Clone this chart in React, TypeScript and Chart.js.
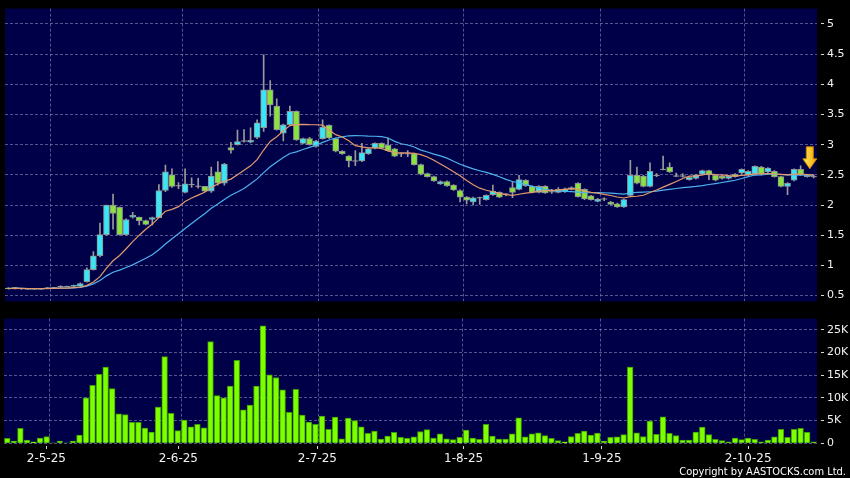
import React, { useEffect, useRef } from "react";
import { Chart, registerables } from "chart.js";

Chart.register(...registerables);

// ---- data (one entry per trading day, oldest first) ----
const opens = [
  0.625, 0.61, 0.615, 0.61, 0.61, 0.61, 0.61, 0.63, 0.65, 0.65,
  0.65, 0.65, 0.73, 0.93, 1.16, 1.51, 2.0, 1.96, 1.51, 1.8,
  1.8, 1.74, 1.76, 1.79, 2.24, 2.5, 2.32, 2.21, 2.34, 2.31,
  2.31, 2.23, 2.55, 2.36, 2.95, 3.0, 3.06, 3.04, 3.12, 3.28,
  3.91, 3.64, 3.19, 3.33, 3.55, 3.02, 3.1, 2.97, 3.1, 3.32,
  3.1, 2.89, 2.81, 2.73, 2.73, 2.85, 2.94, 3.02, 2.99, 2.93,
  2.85, 2.85, 2.85, 2.67, 2.52, 2.47, 2.35, 2.39, 2.33, 2.24,
  2.13, 2.05, 2.12, 2.09, 2.17, 2.21, 2.18, 2.29, 2.26, 2.41,
  2.31, 2.21, 2.31, 2.22, 2.21, 2.22, 2.26, 2.36, 2.26, 2.15,
  2.06, 2.1, 2.05, 2.02, 1.97, 2.16, 2.49, 2.48, 2.31, 2.49,
  2.59, 2.63, 2.48, 2.48, 2.42, 2.44, 2.51, 2.57, 2.49, 2.48,
  2.44, 2.51, 2.53, 2.5, 2.51, 2.63, 2.55, 2.56, 2.47, 2.31,
  2.41, 2.59, 2.47, 2.47,
];
const highs = [
  0.63, 0.635, 0.62, 0.615, 0.615, 0.615, 0.635, 0.635, 0.66, 0.655,
  0.675, 0.71, 0.96, 1.23, 1.7, 2.0, 2.18, 1.97, 1.77, 1.88,
  1.8, 1.75, 1.8, 2.34, 2.66, 2.6, 2.37, 2.6, 2.45, 2.44,
  2.31, 2.63, 2.72, 2.69, 3.04, 3.24, 3.25, 3.28, 3.41, 4.49,
  4.06, 3.76, 3.34, 3.64, 3.56, 3.11, 3.12, 3.07, 3.41, 3.33,
  3.11, 2.9, 2.82, 2.9, 3.02, 2.94, 3.03, 3.03, 3.11, 2.94,
  2.86, 2.9, 2.86, 2.68, 2.53, 2.48, 2.4, 2.4, 2.34, 2.25,
  2.14, 2.13, 2.13, 2.17, 2.33, 2.22, 2.19, 2.38, 2.49, 2.42,
  2.32, 2.32, 2.32, 2.26, 2.29, 2.28, 2.3, 2.37, 2.27, 2.16,
  2.11, 2.12, 2.06, 2.03, 2.1, 2.74, 2.63, 2.49, 2.7, 2.52,
  2.81, 2.7, 2.53, 2.52, 2.47, 2.51, 2.58, 2.58, 2.5, 2.49,
  2.49, 2.52, 2.6, 2.57, 2.65, 2.64, 2.62, 2.57, 2.48, 2.37,
  2.6, 2.65, 2.5, 2.5,
];
const lows = [
  0.61, 0.61, 0.6, 0.605, 0.605, 0.605, 0.61, 0.625, 0.63, 0.645,
  0.645, 0.64, 0.72, 0.92, 1.14, 1.5, 1.6, 1.5, 1.5, 1.78,
  1.67, 1.67, 1.67, 1.79, 2.22, 2.29, 2.27, 2.2, 2.29, 2.28,
  2.22, 2.21, 2.33, 2.33, 2.86, 2.99, 3.04, 3.03, 3.1, 3.22,
  3.47, 3.24, 3.06, 3.32, 3.07, 3.01, 2.99, 2.96, 3.09, 3.1,
  2.88, 2.84, 2.63, 2.65, 2.72, 2.84, 2.93, 2.93, 2.89, 2.8,
  2.8, 2.8, 2.66, 2.5, 2.46, 2.39, 2.34, 2.31, 2.24, 2.05,
  2.02, 2.0, 2.01, 2.08, 2.16, 2.12, 2.15, 2.12, 2.25, 2.31,
  2.2, 2.2, 2.19, 2.19, 2.2, 2.21, 2.25, 2.13, 2.09, 2.08,
  2.05, 2.07, 2.0, 1.96, 1.96, 2.15, 2.35, 2.3, 2.3, 2.47,
  2.58, 2.54, 2.47, 2.46, 2.41, 2.43, 2.5, 2.42, 2.4, 2.43,
  2.43, 2.46, 2.52, 2.49, 2.5, 2.5, 2.52, 2.46, 2.3, 2.17,
  2.4, 2.49, 2.46, 2.45,
];
const closes = [
  0.615, 0.63, 0.61, 0.61, 0.61, 0.61, 0.63, 0.63, 0.65, 0.65,
  0.67, 0.7, 0.93, 1.16, 1.51, 2.0, 1.86, 1.51, 1.76, 1.83,
  1.74, 1.68, 1.79, 2.24, 2.55, 2.31, 2.32, 2.35, 2.34, 2.31,
  2.23, 2.48, 2.36, 2.68, 2.91, 3.05, 3.06, 3.07, 3.36, 3.91,
  3.66, 3.25, 3.33, 3.55, 3.08, 3.1, 3.0, 3.06, 3.29, 3.11,
  2.89, 2.85, 2.73, 2.73, 2.87, 2.93, 3.02, 2.94, 2.9, 2.81,
  2.85, 2.85, 2.67, 2.51, 2.47, 2.4, 2.39, 2.32, 2.25, 2.13,
  2.08, 2.12, 2.12, 2.16, 2.23, 2.13, 2.18, 2.21, 2.42, 2.32,
  2.21, 2.31, 2.2, 2.22, 2.26, 2.27, 2.29, 2.14, 2.1, 2.09,
  2.1, 2.1, 2.01, 1.97, 2.09, 2.49, 2.36, 2.31, 2.56, 2.49,
  2.59, 2.55, 2.48, 2.48, 2.46, 2.5, 2.57, 2.5, 2.41, 2.44,
  2.48, 2.47, 2.59, 2.56, 2.64, 2.51, 2.61, 2.47, 2.31, 2.36,
  2.59, 2.5, 2.49, 2.47,
];
const volumes = [
  1100, 500, 3300, 700, 300, 1160, 1460, 50, 500, 100,
  500, 1800, 10000, 12800, 15200, 16800, 12060, 6500, 6350, 4600,
  4600, 3350, 2500, 8000, 19100, 6600, 2800, 5100, 3650, 4200,
  3400, 22400, 10500, 10000, 12600, 18300, 7400, 8400, 12600, 25900,
  15100, 14500, 11800, 6800, 11900, 6200, 4700, 4200, 6000, 3100,
  5800, 1000, 5550, 5000, 3650, 2200, 2700, 950, 1600, 2400,
  1300, 1100, 1400, 2600, 3000, 1160, 2100, 1000, 800, 1300,
  2900, 1160, 900, 4200, 1600, 950, 950, 2100, 5600, 1400,
  2100, 2300, 1700, 1100, 600, 300, 1460, 2200, 2700, 1800,
  2260, 500, 1300, 1400, 1900, 16800, 2300, 1500, 4900, 2000,
  5850, 2200, 1700, 700, 700, 2500, 3600, 1900, 900, 600,
  350, 1160, 800, 1160, 900, 350, 700, 1400, 3100, 1300,
  3100, 3300, 2400, 350,
];
const tickLabels = ["2-5-25", "2-6-25", "2-7-25", "1-8-25", "1-9-25", "2-10-25"];
const tickIndex = [5.96, 26.1, 47.3, 69.6, 90.7, 113.0];
const gridIndex = [6.47, 26.6, 47.4, 69.5, 90.5, 112.4];
const priceTicks = [0.5, 1, 1.5, 2, 2.5, 3, 3.5, 4, 4.5, 5];
const volumeTicks = [0, 5000, 10000, 15000, 20000, 25000];
const maPeriods = [10, 20];
const arrowIndex = 122.4;
const arrowTip = 2.6;

// ---- styling ----
const NAVY = "#000048";
const GRID = "rgba(140,140,190,0.6)";
const UP = "#3ae6f6";
const DOWN = "#8ae23c";
const CANDLE_EDGE = "#8e9494";
const WICK = "#9a9a9a";
const MA_COLORS = ["#e39a6c", "#4cb2ee"];
const FONT = "'DejaVu Sans', sans-serif";

function movingAverage(src: number[], n: number) {
  return src.map((_, i) => {
    const w = src.slice(Math.max(0, i - n + 1), i + 1);
    return w.reduce((a, b) => a + b, 0) / w.length;
  });
}

const plotBackground = {
  id: "plotBackground",
  beforeDraw(chart: any) {
    const { ctx, chartArea } = chart;
    ctx.save();
    ctx.fillStyle = "#000";
    ctx.fillRect(0, 0, chart.width, chart.height);
    ctx.fillStyle = NAVY;
    ctx.fillRect(chartArea.left, chartArea.top, chartArea.right - chartArea.left, chartArea.bottom - chartArea.top);
    ctx.restore();
  },
};

const arrowMarker = {
  id: "arrowMarker",
  afterDatasetsDraw(chart: any) {
    const { ctx, scales } = chart;
    const x = scales.x.getPixelForValue(arrowIndex);
    const tip = scales.y.getPixelForValue(arrowTip);
    const top = tip - 22;
    const headTop = tip - 10;
    ctx.save();
    ctx.beginPath();
    ctx.moveTo(x - 3.5, top);
    ctx.lineTo(x + 3.5, top);
    ctx.lineTo(x + 3.5, headTop);
    ctx.lineTo(x + 7, headTop);
    ctx.lineTo(x, tip);
    ctx.lineTo(x - 7, headTop);
    ctx.lineTo(x - 3.5, headTop);
    ctx.closePath();
    const g = ctx.createLinearGradient(x - 7, 0, x + 7, 0);
    g.addColorStop(0, "#ffe85e");
    g.addColorStop(1, "#f3a800");
    ctx.fillStyle = g;
    ctx.fill();
    ctx.strokeStyle = "#c98000";
    ctx.lineWidth = 1;
    ctx.stroke();
    ctx.restore();
  },
};

// vertical dashed grid lines (no labels)
function gridAxis(): any {
  return {
    type: "linear",
    position: "bottom",
    min: -0.5,
    max: opens.length - 0.5,
    offset: false,
    afterBuildTicks: (s: any) => {
      s.ticks = gridIndex.map((v) => ({ value: v }));
    },
    afterFit: (s: any) => {
      s.height = 0;
    },
    grid: { offset: false, color: GRID, lineWidth: 1, drawTicks: false },
    border: { display: false, dash: [3, 2] },
    ticks: { display: false },
  };
}

// labelled date axis (tick marks and labels only)
function dateAxis(): any {
  return {
    type: "linear",
    position: "bottom",
    min: -0.5,
    max: opens.length - 0.5,
    offset: false,
    afterBuildTicks: (s: any) => {
      s.ticks = tickIndex.map((v) => ({ value: v }));
    },
    afterFit: (s: any) => {
      s.height = 34.7;
    },
    grid: {
      offset: false,
      drawOnChartArea: false,
      drawTicks: true,
      tickLength: 6,
      tickColor: "#d8d8d8",
      tickWidth: 1,
      tickBorderDash: [0, 3, 3, 40],
    },
    border: { display: false },
    ticks: {
      autoSkip: false,
      maxRotation: 0,
      minRotation: 0,
      padding: 2,
      color: "#f2f2f2",
      font: { family: FONT, size: 12 },
      callback: (_v: any, i: number) => tickLabels[i],
    },
  };
}

function yAxis(min: number, max: number, values: number[], fmt: (v: number) => string): any {
  return {
    position: "right",
    min,
    max,
    afterBuildTicks: (s: any) => {
      s.ticks = values.map((v) => ({ value: v }));
    },
    afterFit: (s: any) => {
      s.width = 33;
    },
    grid: {
      color: GRID,
      lineWidth: 1,
      drawTicks: true,
      tickLength: 8,
      tickColor: "#d8d8d8",
      tickWidth: 1,
      tickBorderDash: [0, 4, 3, 40],
    },
    border: { display: false, dash: [3, 2] },
    ticks: {
      autoSkip: false,
      padding: 2,
      color: "#f2f2f2",
      font: { family: FONT, size: 11 },
      callback: (v: any) => fmt(Number(v)),
    },
  };
}

export default function App() {
  const priceRef = useRef<HTMLCanvasElement | null>(null);
  const volRef = useRef<HTMLCanvasElement | null>(null);

  useEffect(() => {
    const bodies = opens.map((o, i) => ({ x: i, y: o === closes[i] ? null : [o, closes[i]] }));
    const wicks = opens.map((_, i) => ({ x: i, y: [lows[i], highs[i]] }));
    const dojis = opens
      .map((o, i) => ({ x: i, y: o, flat: o === closes[i] }))
      .filter((p) => p.flat)
      .map((p) => ({ x: p.x, y: p.y }));
    const mas = maPeriods.map((n) => movingAverage(closes, n));

    const price = new Chart(priceRef.current as HTMLCanvasElement, {
      type: "bar",
      data: {
        datasets: [
          ...mas.map((m, j) => ({
            type: "line" as const,
            data: m.map((v, i) => ({ x: i, y: v })),
            borderColor: MA_COLORS[j],
            borderWidth: 1.2,
            pointRadius: 0,
            tension: 0,
            order: 0,
          })),
          {
            type: "bar" as const,
            data: bodies as any,
            grouped: false,
            barThickness: 6,
            borderWidth: 1,
            borderSkipped: false,
            borderColor: CANDLE_EDGE,
            backgroundColor: (c: any) => (closes[c.dataIndex] >= opens[c.dataIndex] ? UP : DOWN),
            order: 1,
          },
          {
            type: "scatter" as const,
            data: dojis,
            pointStyle: "line",
            radius: 3,
            borderColor: WICK,
            borderWidth: 1,
            order: 1,
          },
          {
            type: "bar" as const,
            data: wicks as any,
            grouped: false,
            barThickness: 1,
            borderWidth: 0,
            backgroundColor: WICK,
            order: 2,
          },
        ] as any,
      },
      options: {
        responsive: false,
        animation: false,
        devicePixelRatio: 1,
        events: [],
        layout: { padding: { left: 4, top: 6, right: 0, bottom: 4 } },
        plugins: { legend: { display: false }, tooltip: { enabled: false } },
        scales: {
          x: gridAxis(),
          y: yAxis(0.403, 5.254, priceTicks, (v) => String(Math.round(v * 10) / 10)),
        },
      } as any,
      plugins: [plotBackground, arrowMarker],
    });

    const vol = new Chart(volRef.current as HTMLCanvasElement, {
      type: "bar",
      data: {
        datasets: [
          {
            data: volumes.map((v, i) => ({ x: i, y: v })),
            barThickness: 5.7,
            borderWidth: 1,
            borderColor: "#3f9c00",
            backgroundColor: "#7dff00",
          },
        ] as any,
      },
      options: {
        responsive: false,
        animation: false,
        devicePixelRatio: 1,
        events: [],
        layout: { padding: { left: 4, top: 8.3, right: 0, bottom: 0 } },
        plugins: { legend: { display: false }, tooltip: { enabled: false } },
        scales: {
          xg: gridAxis(),
          x: dateAxis(),
          y: yAxis(0, 27480, volumeTicks, (v) => (v === 0 ? "0" : Math.round(v / 1000) + "K")),
        },
      } as any,
      plugins: [plotBackground],
    });

    return () => {
      price.destroy();
      vol.destroy();
    };
  }, []);

  return (
    <div
      style={{
        position: "fixed",
        left: 0,
        top: 0,
        width: 850,
        height: 478,
        background: "#000",
        overflow: "hidden",
      }}
    >
      <canvas ref={priceRef} width={850} height={310} style={{ position: "absolute", left: 0, top: 0, display: "block" }} />
      <canvas ref={volRef} width={850} height={168} style={{ position: "absolute", left: 0, top: 310, display: "block" }} />
      <div
        style={{
          position: "absolute",
          right: 4,
          top: 465,
          color: "#ffffff",
          fontFamily: "'DejaVu Sans Condensed', 'DejaVu Sans', sans-serif",
          fontStretch: "condensed",
          fontSize: 11,
          lineHeight: "13px",
          whiteSpace: "nowrap",
        }}
      >
        Copyright by AASTOCKS.com Ltd.
      </div>
    </div>
  );
}
